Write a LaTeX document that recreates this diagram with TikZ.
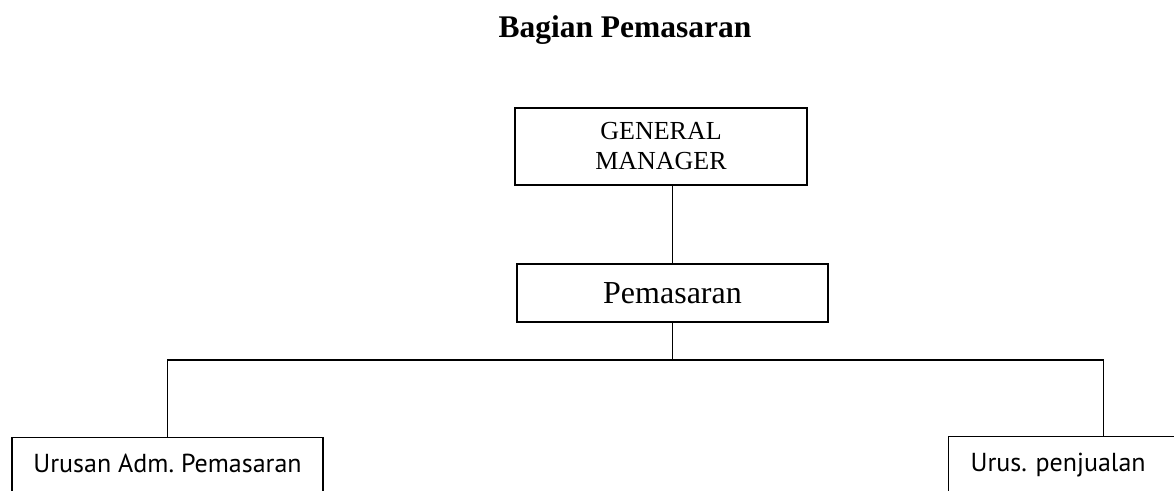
\documentclass[tikz,border=0pt]{standalone}
\usepackage{fontspec}
\setmainfont{Liberation Serif}
\newfontfamily\labelfont{PT Sans}
\begin{document}
\begin{tikzpicture}[x=1pt,y=-1pt,
  line width=1.2pt,
  box/.style={draw, inner sep=0pt, minimum width=311pt},
  unit/.style={box, font=\labelfont\fontsize{26}{30}\selectfont,
    text height=19pt, text depth=6pt, inner ysep=16pt},
  link/.style={draw}
]
\useasboundingbox (0,0) rectangle (1174,490);
\clip (0,0) rectangle (1174,490);

% title
\node[anchor=base, font=\bfseries\fontsize{31.5}{35}\selectfont] (title) at (625,37) {Bagian Pemasaran};

% top of the hierarchy
\node[box, minimum width=292pt, minimum height=77pt, align=center,
      font=\fontsize{26}{30}\selectfont] (gm) at (661,146.5) {GENERAL\\MANAGER};
\node[box, minimum height=58pt, font=\fontsize{32}{36}\selectfont] (pem) at (672.5,293) {Pemasaran};

% the two sections
\node[unit, anchor=north] (adm) at (167.5,437) {Urusan Adm.\ Pemasaran};
\node[unit, anchor=north west, minimum width=310pt, text width=266pt, align=left,
      inner xsep=22pt] (jual) at (948,436) {Urus.\ penjualan};

% connectors
\coordinate (bus) at (672.5,360);
\draw[link] (pem.north) -- (pem.north |- gm.south);
\draw[link] (pem.south) -- (bus);
\draw[link] (adm.north) |- (bus) -| (jual.north);
\end{tikzpicture}
\end{document}
